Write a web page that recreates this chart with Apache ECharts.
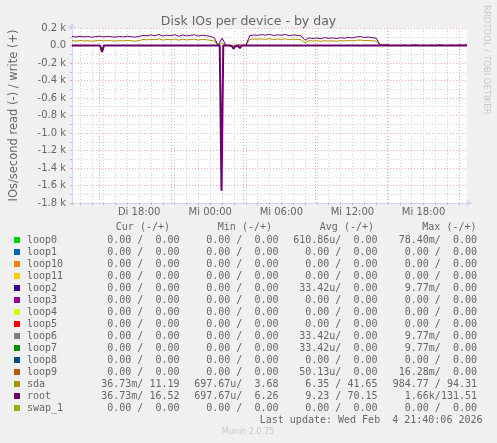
<!DOCTYPE html>
<html>
<head>
<meta charset="utf-8">
<script src="https://cdn.jsdelivr.net/npm/echarts@6/dist/echarts.min.js"></script>
<style>
  html, body { margin: 0; padding: 0; background: #f0f0f0; }
  #chart { width: 497px; height: 443px; }
</style>
</head>
<body>
<div id="chart"></div>
<script>
// x is hours since Tue 00:00, write lines sampled every 20 min
var startHour = 12.333;
var endHour = 45.667;
var stepHour = 1 / 3;
var dayNames = ['Di', 'Mi'];

var rootWrite = [
  104, 96, 106, 98, 104, 94, 102, 106, 98, 104, 100, 96, 104, 98, 106, 100, 96, 104,
  116, 110, 120, 112, 126, 108, 118, 112, 124, 106, 120, 110, 116, 122, 108, 118, 112, 104, 90,
  0, 85, 0, 4, 0, 6, 2, 0,
  112, 120, 116, 124, 118, 128, 114, 122, 118, 126, 112, 120, 116, 110, 60,
  88, 80, 86, 78, 90, 82, 86, 80, 88, 84, 92, 86, 98, 102, 92, 96, 88, 84,
  8, 6, 6, 0, 2, 0, 3, 0, 2, 6, 0, 2, 0, 4, 0, 8, 2, 0, 4, 0, 6, 2, 8
];
var sdaWrite = [
  56, 50, 58, 52, 56, 48, 54, 58, 52, 56, 54, 50, 56, 52, 58, 54, 50, 56,
  70, 64, 72, 66, 76, 62, 70, 66, 74, 60, 72, 64, 68, 72, 62, 70, 66, 60, 50,
  0, 30, 0, 2, 0, 3, 1, 0,
  70, 74, 72, 76, 70, 78, 68, 74, 70, 76, 66, 72, 70, 64, 30,
  56, 50, 54, 48, 56, 50, 54, 48, 56, 52, 58, 52, 60, 62, 56, 58, 54, 50,
  5, 4, 4, 0, 1, 0, 2, 0, 1, 3, 0, 1, 0, 2, 0, 4, 1, 0, 2, 0, 3, 1, 4
];
// reads are drawn negative: [hour, value]
var rootRead = [
  [12.333, 0], [14.7, 0], [14.87, -75], [15.03, 0], [24.8, 0], [24.95, -1660], [25.1, 0],
  [25.3, 0], [25.4, -22], [25.55, 0], [25.85, -10], [25.96, -36], [26.1, -8], [26.23, -25],
  [26.36, -5], [26.5, -30], [26.65, 0], [26.78, -20], [26.9, 0],
  [37.38, 0], [37.47, -18], [37.56, 0], [45.667, 0]
];
var sdaRead = [
  [12.333, 0], [14.7, 0], [14.87, -40], [15.03, 0], [24.8, 0], [24.95, -985], [25.1, 0], [45.667, 0]
];

var legendNames = ['loop0', 'loop1', 'loop10', 'loop11', 'loop2', 'loop3', 'loop4', 'loop5',
  'loop6', 'loop7', 'loop8', 'loop9', 'sda', 'root', 'swap_1'];
var legendColors = ['#00cc00', '#0066b3', '#ff8000', '#ffcc00', '#330099', '#990099', '#ccff00', '#ff0000',
  '#808080', '#008f00', '#00487d', '#b35a00', '#b38f00', '#6b006b', '#8fb300'];
var Z = '0.00 /  0.00';
var curValues = [Z, Z, Z, Z, Z, Z, Z, Z, Z, Z, Z, Z, '36.73m/ 11.19', '36.73m/ 16.52', Z];
var minValues = [Z, Z, Z, Z, Z, Z, Z, Z, Z, Z, Z, Z, '697.67u/  3.68', '697.67u/  6.26', Z];
var avgValues = ['610.86u/  0.00', Z, Z, Z, '33.42u/  0.00', Z, Z, Z, '33.42u/  0.00', '33.42u/  0.00',
  Z, '50.13u/  0.00', '6.35 / 41.65', '9.23 / 70.15', Z];
var maxValues = ['78.40m/  0.00', Z, Z, Z, '9.77m/  0.00', Z, Z, Z, '9.77m/  0.00', '9.77m/  0.00',
  Z, '16.28m/  0.00', '984.77 / 94.31', '1.66k/131.51', Z];
var columnHeads = ['Cur (-/+)', 'Min (-/+)', 'Avg (-/+)', 'Max (-/+)'];
var lastUpdate = 'Last update: Wed Feb  4 21:40:06 2026';

var mono = '10px "DejaVu Sans Mono"';
var textGray = '#666';
var axisBlue = '#cfd6f8';
var gridRed = '#f0a8a8';
var gridGray = '#d2d2d2';

function toPairs(values) {
  return values.map(function (v, i) {
    return [startHour + i * stepHour, v];
  });
}

// legend table
var graphics = [];
var headX = [170, 272, 374, 476.5];
var colX = [179.5, 278.5, 377.5, 477];
var columns = [curValues, minValues, avgValues, maxValues];
columnHeads.forEach(function (t, i) {
  graphics.push({type: 'text', x: headX[i], y: 227,
    style: {text: t, font: mono, fill: textGray, align: 'right', verticalAlign: 'middle'}});
});
legendNames.forEach(function (name, r) {
  var y = 240 + r * 12;
  graphics.push({type: 'rect', shape: {x: 14, y: y - 3, width: 6, height: 6}, style: {fill: legendColors[r]}});
  graphics.push({type: 'text', x: 27, y: y,
    style: {text: name, font: mono, fill: textGray, align: 'left', verticalAlign: 'middle'}});
  columns.forEach(function (col, c) {
    graphics.push({type: 'text', x: colX[c], y: y,
      style: {text: col[r], font: mono, fill: textGray, align: 'right', verticalAlign: 'middle'}});
  });
});
graphics.push({type: 'text', x: 482.5, y: 420,
  style: {text: lastUpdate, font: mono, fill: textGray, align: 'right', verticalAlign: 'middle'}});
graphics.push({type: 'text', x: 248, y: 432,
  style: {text: 'Munin 2.0.75', font: '8px "DejaVu Sans"', fill: '#c8c8c8', align: 'center', verticalAlign: 'middle'}});
graphics.push({type: 'text', x: 486, y: 5, rotation: -Math.PI / 2,
  style: {text: 'RRDTOOL / TOBI OETIKER', font: '8.5px "DejaVu Sans"', fill: '#c8c8c8', align: 'left', verticalAlign: 'middle'}});

var mCharts = echarts.init(document.getElementById('chart'));
var option = {
  animation: false,
  backgroundColor: '#f0f0f0',
  textStyle: {fontFamily: 'DejaVu Sans'},
  title: {
    text: 'Disk IOs per device - by day',
    left: 'center',
    top: 10,
    textStyle: {fontSize: 12.5, fontWeight: 'normal', color: textGray, fontFamily: 'DejaVu Sans'}
  },
  grid: [
    {left: 67, right: 30, top: 28, bottom: 240, show: true, backgroundColor: '#fff', borderWidth: 0},
    // wider helper grid so the 6-hourly red lines fall on 15:00, 21:00, ...
    {left: 27, right: 38, top: 28, bottom: 240}
  ],
  xAxis: [
    {
      type: 'value', gridIndex: 0, min: startHour, max: endHour, splitNumber: 33,
      axisLine: {onZero: false, lineStyle: {color: axisBlue}, symbol: ['none', 'arrow'], symbolSize: [6, 6], symbolOffset: [0, 5]},
      axisTick: {show: true, length: 2, lineStyle: {color: '#bbb'}},
      axisLabel: {
        color: textGray, fontSize: 10, margin: 4, fontFamily: 'DejaVu Sans',
        formatter: function (v) {
          if (v % 6 !== 0) return '';
          var hh = v % 24;
          return dayNames[Math.floor(v / 24)] + ' ' + (hh < 10 ? '0' : '') + hh + ':00';
        }
      },
      splitLine: {show: true, showMinLine: false, showMaxLine: false, lineStyle: {color: gridGray, type: [1, 2]}}
    },
    {
      type: 'value', gridIndex: 1, min: 12, max: 48, interval: 6, z: 1,
      axisLine: {show: false}, axisTick: {show: false}, axisLabel: {show: false},
      splitLine: {show: true, showMinLine: false, lineStyle: {color: gridRed, type: [1, 2]}}
    }
  ],
  yAxis: [
    {
      type: 'value', gridIndex: 0, min: -1800, max: 200, interval: 200,
      name: 'IOs/second read (-) / write (+)', nameLocation: 'middle', nameGap: 52, nameRotate: 90,
      nameTextStyle: {color: textGray, fontSize: 11.5, fontFamily: 'DejaVu Sans'},
      axisLine: {show: true, lineStyle: {color: axisBlue}, symbol: ['none', 'arrow'], symbolSize: [6, 6], symbolOffset: [0, 5]},
      axisTick: {show: true, length: 2, lineStyle: {color: gridRed}},
      minorTick: {show: true, splitNumber: 2, length: 2, lineStyle: {color: '#bbb'}},
      axisLabel: {
        color: textGray, fontSize: 10, margin: 6, fontFamily: 'DejaVu Sans',
        formatter: function (v) {
          return v === 0 ? '0.0' : (v / 1000).toFixed(1) + ' k';
        }
      },
      splitLine: {show: true, lineStyle: {color: gridRed, type: [1, 2]}},
      minorSplitLine: {show: true, lineStyle: {color: gridGray, type: [1, 2]}}
    },
    {type: 'value', gridIndex: 1, min: -1800, max: 200, show: false}
  ],
  graphic: graphics,
  series: [
    {name: 'sda', type: 'line', xAxisIndex: 0, yAxisIndex: 0, symbol: 'none',
      lineStyle: {width: 1, color: '#b38f00'}, data: toPairs(sdaWrite)},
    {name: 'root', type: 'line', xAxisIndex: 0, yAxisIndex: 0, symbol: 'none',
      lineStyle: {width: 1, color: '#6b006b'}, data: toPairs(rootWrite)},
    {name: 'sda read', type: 'line', xAxisIndex: 0, yAxisIndex: 0, symbol: 'none',
      lineStyle: {width: 1, color: '#b38f00'}, data: sdaRead},
    {name: 'root read', type: 'line', xAxisIndex: 0, yAxisIndex: 0, symbol: 'none',
      lineStyle: {width: 2, color: '#6b006b'}, data: rootRead}
  ]
};
option && mCharts.setOption(option);
</script>
</body>
</html>
